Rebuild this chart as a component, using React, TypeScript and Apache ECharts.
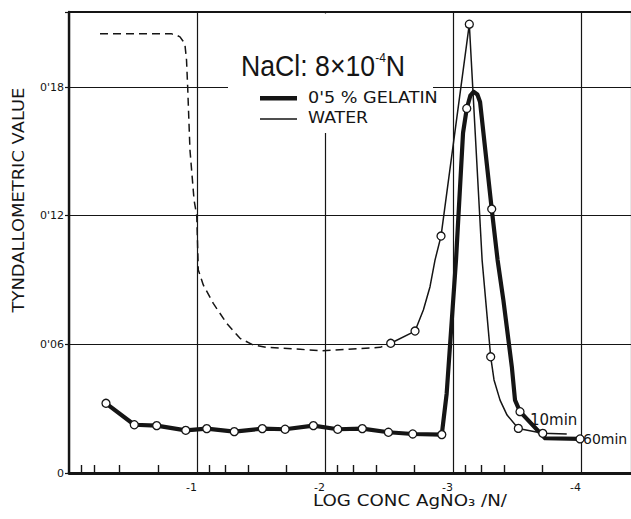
import React, { useEffect, useRef } from 'react';
import * as echarts from 'echarts';

// x values are the magnitude of log conc AgNO3 (axis reads them as negative)
const xTicks = [1, 2, 3, 4];
const xTickLabels = ['-1', '-2', '-3', '-4'];
const xMinorTicks = [0.094, 0.195, 0.39, 0.695, 1.097, 1.222, 1.398, 1.699, 2.097, 2.222, 2.398, 2.699, 3.097, 3.222, 3.398, 3.699];
const yTicks = [0, 0.06, 0.12, 0.18];
const yTickLabels = ['0', "0'06", "0'12", "0'18"];

// [x, y, marker]
const gelatin: [number, number, number][] = [
  [0.289, 0.0325, 1], [0.51, 0.0225, 1], [0.685, 0.0221, 1], [0.912, 0.0199, 1],
  [1.076, 0.0207, 1], [1.291, 0.0193, 1], [1.51, 0.0207, 1], [1.688, 0.0204, 1],
  [1.909, 0.0221, 1], [2.099, 0.0204, 1], [2.291, 0.0207, 1], [2.495, 0.019, 1],
  [2.685, 0.0182, 1], [2.912, 0.0179, 1], [2.95, 0.037, 0], [3.023, 0.0993, 0],
  [3.078, 0.1586, 0], [3.107, 0.17, 1], [3.135, 0.176, 0], [3.16, 0.1778, 0],
  [3.19, 0.1765, 0], [3.211, 0.173, 0], [3.302, 0.1231, 1], [3.348, 0.0993, 0],
  [3.393, 0.0807, 0], [3.459, 0.0496, 0], [3.484, 0.034, 0], [3.523, 0.0286, 1],
  [3.719, 0.0162, 0], [3.992, 0.0159, 1],
];

const waterDashed: [number, number][] = [
  [0.242, 0.2048], [0.802, 0.2048], [0.84, 0.2042], [0.867, 0.2034], [0.89, 0.2015],
  [0.906, 0.1996], [0.918, 0.1926], [0.927, 0.18], [0.945, 0.1506], [0.977, 0.1273],
  [0.998, 0.1199], [1.01, 0.0947], [1.049, 0.0877], [1.127, 0.0791], [1.232, 0.0698],
  [1.336, 0.0628], [1.44, 0.0597], [1.545, 0.0586], [1.805, 0.0577], [1.961, 0.057],
  [2.43, 0.0586], [2.513, 0.0605],
];

const waterSolid: [number, number, number][] = [
  [2.513, 0.0605, 1], [2.703, 0.0662, 1], [2.768, 0.076, 0], [2.82, 0.0869, 0],
  [2.859, 0.0993, 0], [2.906, 0.1105, 1], [3.127, 0.2093, 1], [3.227, 0.0993, 0],
  [3.294, 0.0542, 1], [3.32, 0.0434, 0], [3.367, 0.034, 0], [3.422, 0.027, 0],
  [3.51, 0.0208, 1], [3.701, 0.0185, 1], [3.888, 0.0182, 0],
];

const INK = '#151515';
const FONT = 'DejaVu Sans';

const toData = (pts: [number, number, number][]) =>
  pts.map(([x, y, m]) => (m ? [x, y] : { value: [x, y], symbol: 'none' }));

export default function App() {
  const ref = useRef<HTMLDivElement>(null);
  useEffect(() => {
    document.body.style.margin = '0';
    if (!ref.current) return;
    const chart = echarts.init(ref.current, undefined, { renderer: 'svg' });
    const symbolStyle = { color: '#fff', borderColor: INK, borderWidth: 1.3 };
    chart.setOption({
      animation: false,
      backgroundColor: '#fff',
      grid: { left: 69, right: 0, top: 12, bottom: 46, outerBoundsMode: 'none' },
      xAxis: [
        {
          type: 'value', min: 0, max: 4.39, interval: 1,
          axisLine: { show: true, lineStyle: { color: INK, width: 2.8 } },
          axisTick: { show: false },
          splitLine: { show: true, lineStyle: { color: INK, width: 1.2 } },
          axisLabel: {
            color: INK, fontFamily: FONT, fontSize: 11, margin: 9, align: 'right',
            formatter: (v: number) => {
              const i = xTicks.findIndex((t) => Math.abs(t - v) < 1e-6);
              return i >= 0 ? xTickLabels[i] : '';
            },
          },
        },
        {
          type: 'value', position: 'top', min: 0, max: 4.39,
          axisLine: { show: true, lineStyle: { color: INK, width: 2 } },
          axisTick: { show: false }, axisLabel: { show: false }, splitLine: { show: false },
        },
        {
          type: 'value', position: 'bottom', min: 0, max: 4.39,
          axisLine: { show: false },
          axisTick: { show: true, inside: true, length: 8, customValues: xMinorTicks, lineStyle: { color: INK, width: 1.4 } },
          axisLabel: { show: false }, splitLine: { show: false },
        },
      ],
      yAxis: {
        type: 'value', min: 0, max: 0.215, interval: 0.06,
        axisLine: { show: true, lineStyle: { color: INK, width: 2.4 } },
        axisTick: { show: true, length: 4, lineStyle: { color: INK, width: 1.2 } },
        splitLine: { show: true, lineStyle: { color: INK, width: 1.2 } },
        axisLabel: {
          color: INK, fontFamily: FONT, fontSize: 11, margin: 5,
          formatter: (v: number) => {
            const i = yTicks.findIndex((t) => Math.abs(t - v) < 1e-6);
            return i >= 0 ? yTickLabels[i] : '';
          },
        },
      },
      series: [
        {
          type: 'line', name: 'WATER (dashed)', data: waterDashed, symbol: 'none',
          lineStyle: { color: INK, width: 1.5, type: [8, 5] }, z: 2,
        },
        {
          type: 'line', name: "0'5 % GELATIN", data: toData(gelatin),
          symbol: 'circle', symbolSize: 8, itemStyle: symbolStyle,
          lineStyle: { color: INK, width: 4.2, join: 'round', cap: 'round' }, z: 3,
        },
        {
          type: 'line', name: 'WATER', data: toData(waterSolid),
          symbol: 'circle', symbolSize: 8, itemStyle: symbolStyle,
          lineStyle: { color: INK, width: 1.5 }, z: 4,
        },
      ],
      graphic: [
        { type: 'rect', z: 100, silent: true, shape: { x: 228, y: 13.5, width: 205, height: 119.5 }, style: { fill: '#fff' } },
        {
          type: 'text', z: 101, x: 241, y: 66, scaleX: 0.92,
          style: {
            text: '{a|NaCl: 8×10}{s|-4}{a|N}',
            verticalAlign: 'middle',
            fill: INK,
            rich: {
              a: { fontFamily: 'Liberation Sans', fontSize: 29, lineHeight: 30, fill: INK },
              s: { fontFamily: 'Liberation Sans', fontSize: 13, lineHeight: 14, verticalAlign: 'top', fill: INK },
            },
          },
        },
        { type: 'line', z: 101, shape: { x1: 260, y1: 98.3, x2: 297, y2: 98.3 }, style: { stroke: INK, lineWidth: 4.5 } },
        { type: 'line', z: 101, shape: { x1: 260, y1: 119, x2: 297, y2: 119 }, style: { stroke: INK, lineWidth: 1.6 } },
        { type: 'text', z: 101, x: 308, y: 97, scaleX: 1.1, style: { text: "0'5 % GELATIN", fontFamily: FONT, fontSize: 16, fill: INK, verticalAlign: 'middle' } },
        { type: 'text', z: 101, x: 308, y: 118, scaleX: 1.08, style: { text: 'WATER', fontFamily: FONT, fontSize: 16, fill: INK, verticalAlign: 'middle' } },
        {
          type: 'text', x: 18, y: 200, rotation: Math.PI / 2, scaleX: 1.12,
          style: { text: 'TYNDALLOMETRIC VALUE', fontFamily: FONT, fontSize: 16, fill: INK, align: 'center', verticalAlign: 'middle' },
        },
        {
          type: 'text', x: 410, y: 500, scaleX: 1.14,
          style: { text: 'LOG CONC AgNO₃ /N/', fontFamily: FONT, fontSize: 16, fill: INK, align: 'center', verticalAlign: 'middle' },
        },
        { type: 'text', x: 530, y: 420, style: { text: '10min', fontFamily: FONT, fontSize: 15, fill: INK, verticalAlign: 'middle' } },
        { type: 'text', x: 583, y: 439, style: { text: '60min', fontFamily: FONT, fontSize: 14, fill: INK, verticalAlign: 'middle' } },
      ],
    });
    return () => chart.dispose();
  }, []);
  return <div ref={ref} style={{ width: 631, height: 519 }} />;
}
